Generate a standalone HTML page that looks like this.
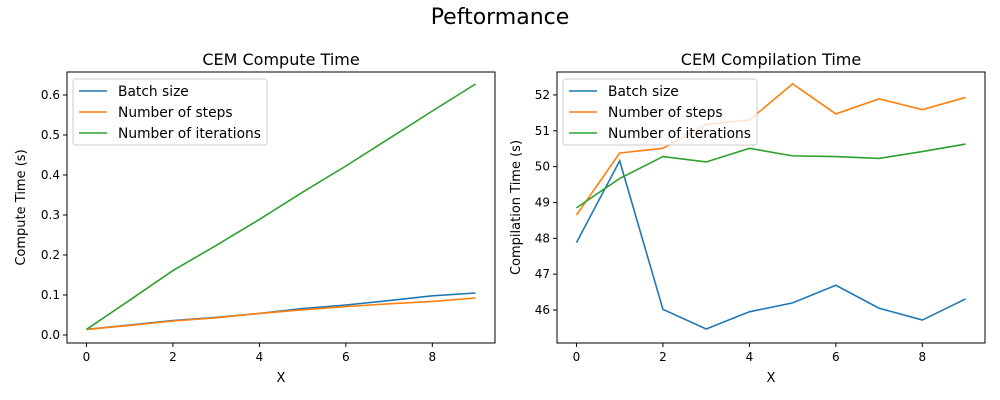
<!DOCTYPE html>
<html><head><meta charset="utf-8"><style>
body{margin:0;background:#fff}
svg{display:block;font-family:"DejaVu Sans","Liberation Sans",sans-serif}
</style></head><body>
<svg id="fig" width="1000" height="400" viewBox="0 0 1000 400">
<text x="500" y="24" text-anchor="middle" font-size="22">Peftormance</text>
</svg>
<script>
const xs=[0,1,2,3,4,5,6,7,8,9];
const computeBatch=[0.014,0.025,0.036,0.044,0.054,0.066,0.075,0.086,0.098,0.105];
const computeSteps=[0.014,0.024,0.035,0.043,0.054,0.063,0.071,0.078,0.084,0.0925];
const computeIters=[0.014,0.087,0.161,0.224,0.289,0.357,0.4225,0.491,0.56,0.6275];
const compBatch=[47.88,50.16,46.02,45.47,45.95,46.20,46.69,46.05,45.72,46.31];
const compSteps=[48.65,50.38,50.51,51.18,51.30,52.31,51.47,51.89,51.59,51.93];
const compIters=[48.85,49.67,50.28,50.13,50.51,50.30,50.28,50.23,50.42,50.63];
const xTicks=[0,2,4,6,8];
const leftYTicks=[0.0,0.1,0.2,0.3,0.4,0.5,0.6];
const rightYTicks=[46,47,48,49,50,51,52];
const seriesNames=["Batch size","Number of steps","Number of iterations"];
const colors=["#1f77b4","#ff7f0e","#2ca02c"];
const NS="http://www.w3.org/2000/svg";
const svg=document.getElementById('fig');
function mk(t,a,p){const e=document.createElementNS(NS,t);for(const k in a)e.setAttribute(k,a[k]);(p||svg).appendChild(e);return e;}
function panel(o){
 const g=mk('g',{});
 
 
 const L=o.x0,R=o.x0+428,T=72,B=343;
 const sx=v=>L+(v-(-0.45))/(9.45+0.45)*(R-L);
 const sy=v=>B-(v-o.ymin)/(o.ymax-o.ymin)*(B-T);
 const tt=mk('text',{x:(L+R)/2,y:65,'text-anchor':'middle','font-size':16},g);tt.textContent=o.title;
 
 xTicks.forEach(v=>{const x=sx(v);mk('line',{x1:x,x2:x,y1:B,y2:B+4,stroke:'#000'},g);
  const t=mk('text',{x:x,y:B+18,'text-anchor':'middle','font-size':12},g);t.textContent=v;
  });
 o.yt.forEach(v=>{const y=sy(v);mk('line',{x1:L-4,x2:L,y1:y,y2:y,stroke:'#000'},g);
  const t=mk('text',{x:L-7,y:y+4,'text-anchor':'end','font-size':12},g);t.textContent=o.fmt(v);
  });
 const xl=mk('text',{x:(L+R)/2,y:382,'text-anchor':'middle','font-size':13},g);xl.textContent='X';
 
 const yl=mk('text',{x:0,y:0,'text-anchor':'middle','font-size':13,transform:`translate(${o.ylx},${(T+B)/2}) rotate(-90)`},g);yl.textContent=o.ylabel;
 
 o.series.forEach((s,i)=>{const p=mk('polyline',{points:xs.map((x,j)=>sx(x)+','+sy(s[j])).join(' '),fill:'none',stroke:colors[i],'stroke-width':1.6},g);
  });
 mk('rect',{x:L,y:T,width:R-L,height:B-T,fill:'none',stroke:'#000','stroke-width':1},g);
 const lg=mk('g',{},g);
 mk('rect',{x:L+6,y:T+7,width:194,height:66,rx:3,fill:'#fff','fill-opacity':0.8,stroke:'#ccc'},lg);
 seriesNames.forEach((n,i)=>{const y=T+19+i*21;mk('line',{x1:L+12,x2:L+40,y1:y,y2:y,stroke:colors[i],'stroke-width':1.6},lg);
  const t=mk('text',{x:L+51,y:y+5,'font-size':13.8},lg);t.textContent=n;
  });
}
panel({name:'compute-time-panel',title:'CEM Compute Time',x0:67,ymin:-0.02,ymax:0.6575,yt:leftYTicks,fmt:v=>v.toFixed(1),ylabel:'Compute Time (s)',ylx:25,series:[computeBatch,computeSteps,computeIters]});
panel({name:'compilation-time-panel',title:'CEM Compilation Time',x0:557,ymin:45.08,ymax:52.64,yt:rightYTicks,fmt:v=>v,ylabel:'Compilation Time (s)',ylx:520,series:[compBatch,compSteps,compIters]});
</script>
</body></html>
